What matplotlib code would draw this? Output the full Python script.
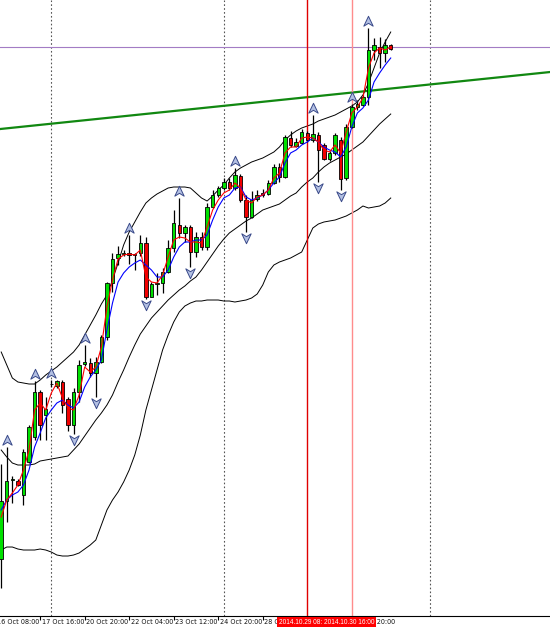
import matplotlib
matplotlib.use("Agg")
import matplotlib.pyplot as plt
import matplotlib.transforms as mtransforms
from matplotlib.path import Path
from matplotlib import font_manager

# H4 candles, 16 Oct 12:00 .. 31 Oct 20:00 (prices)
opens = [106.407, 106.993, 107.205, 107.193, 107.05, 107.383, 107.627, 108.083, 107.85, 108.16,
         108.14, 108.183, 108.01, 107.75, 108.083, 108.357, 108.373, 108.273, 108.383, 108.627,
         109.173, 109.423, 109.465, 109.467, 109.46, 109.467, 109.567, 109.033, 109.157, 109.167,
         109.283, 109.517, 109.75, 109.667, 109.733, 109.483, 109.633, 109.527, 109.933, 110.05,
         110.117, 110.183, 110.12, 110.24, 110.00, 109.833, 110.007, 110.073, 110.06, 110.173,
         110.333, 110.227, 110.617, 110.54, 110.573, 110.667, 110.60, 110.655, 110.55, 110.407,
         110.467, 110.60, 110.217, 110.733, 110.927, 110.95, 111.027, 111.50, 111.533, 111.467,
         111.55]
highs = [107.357, 107.527, 107.24, 107.215, 107.51, 107.75, 108.193, 108.10, 108.03, 108.20,
         108.20, 108.20, 108.03, 108.12, 108.40, 108.55, 108.423, 108.43, 108.65, 109.183,
         109.467, 109.54, 109.50, 109.65, 109.47, 109.65, 109.63, 109.183, 109.27, 109.317,
         109.60, 109.90, 110.017, 109.75, 109.75, 109.68, 109.68, 109.97, 110.10, 110.14,
         110.22, 110.22, 110.317, 110.26, 110.05, 110.093, 110.10, 110.11, 110.20, 110.36,
         110.367, 110.65, 110.69, 110.62, 110.707, 110.69, 110.85, 110.68, 110.57, 110.49,
         110.67, 110.633, 110.76, 110.96, 111.00, 111.05, 111.717, 111.617, 111.633, 111.607,
         111.56]
lows = [106.117, 106.783, 106.97, 107.14, 106.95, 107.37, 107.60, 107.60, 107.60, 108.13,
        108.12, 107.87, 107.69, 107.66, 107.983, 108.34, 108.233, 108.033, 108.37, 108.60,
        109.083, 109.35, 109.44, 109.36, 109.30, 109.44, 109.007, 109.027, 109.05, 109.067,
        109.267, 109.483, 109.617, 109.583, 109.333, 109.433, 109.50, 109.50, 109.92, 110.03,
        110.10, 110.10, 110.10, 109.98, 109.683, 109.82, 109.99, 110.03, 110.05, 110.16,
        110.183, 110.22, 110.53, 110.53, 110.56, 110.58, 110.58, 110.18, 110.40, 110.39,
        110.45, 110.10, 110.20, 110.72, 110.90, 110.94, 110.95, 111.40, 111.317, 111.383,
        111.50]
closes = [106.993, 107.193, 107.21, 107.15, 107.483, 107.733, 108.083, 107.75, 107.907, 108.157,
          108.187, 107.95, 107.75, 108.083, 108.35, 108.383, 108.273, 108.383, 108.633, 109.173,
          109.407, 109.457, 109.47, 109.447, 109.455, 109.567, 109.03, 109.16, 109.173, 109.283,
          109.517, 109.767, 109.667, 109.733, 109.483, 109.633, 109.533, 109.933, 110.05, 110.117,
          110.183, 110.117, 110.25, 110.00, 109.833, 110.00, 110.05, 110.05, 110.173, 110.333,
          110.233, 110.633, 110.55, 110.583, 110.677, 110.60, 110.66, 110.505, 110.407, 110.467,
          110.65, 110.207, 110.733, 110.933, 110.957, 111.027, 111.50, 111.55, 111.473, 111.55,
          111.507]

# indicator lines (fast MA red, slow MA blue, Bollinger bands black)
ma_fast = [106.83, 107.00, 107.07, 107.15, 107.30, 107.50, 107.90, 107.97, 107.90, 108.07,
           108.17, 108.02, 107.92, 107.90, 108.05, 108.33, 108.28, 108.33, 108.53, 108.93,
           109.20, 109.41, 109.45, 109.46, 109.45, 109.50, 109.23, 109.18, 109.17, 109.25,
           109.43, 109.60, 109.63, 109.62, 109.58, 109.58, 109.57, 109.73, 109.90, 110.00,
           110.07, 110.10, 110.17, 110.12, 110.00, 109.97, 110.03, 110.05, 110.10, 110.22,
           110.27, 110.47, 110.53, 110.53, 110.62, 110.63, 110.62, 110.58, 110.50, 110.48,
           110.55, 110.47, 110.68, 110.87, 110.93, 111.02, 111.32, 111.47, 111.52, 111.50,
           111.53]
ma_slow = [106.90, 107.00, 107.05, 107.08, 107.15, 107.30, 107.53, 107.67, 107.82, 107.90,
           107.97, 108.00, 107.95, 107.92, 107.98, 108.13, 108.23, 108.30, 108.40, 108.70,
           108.97, 109.18, 109.27, 109.33, 109.37, 109.40, 109.35, 109.30, 109.23, 109.23,
           109.30, 109.43, 109.53, 109.58, 109.58, 109.60, 109.60, 109.65, 109.80, 109.93,
           110.02, 110.05, 110.12, 110.13, 110.03, 110.00, 110.02, 110.05, 110.10, 110.17,
           110.23, 110.37, 110.47, 110.50, 110.55, 110.58, 110.62, 110.58, 110.53, 110.50,
           110.48, 110.43, 110.53, 110.73, 110.87, 110.92, 111.00, 111.18, 111.27, 111.35,
           111.42]
bb_upper = [108.48, 108.35, 108.22, 108.18, 108.17, 108.16, 108.16, 108.20, 108.25, 108.29,
            108.33, 108.38, 108.43, 108.48, 108.55, 108.65, 108.75, 108.85, 108.96, 109.05,
            109.20, 109.37, 109.55, 109.68, 109.78, 109.88, 109.97, 110.02, 110.06, 110.09,
            110.12, 110.13, 110.13, 110.13, 110.12, 110.07, 110.02, 109.99, 110.04, 110.10,
            110.15, 110.22, 110.28, 110.32, 110.35, 110.38, 110.40, 110.42, 110.45, 110.48,
            110.53, 110.60, 110.65, 110.69, 110.72, 110.74, 110.76, 110.79, 110.81, 110.83,
            110.85, 110.88, 110.91, 110.94, 110.98, 111.05, 111.17, 111.32, 111.47, 111.58,
            111.68]
bb_middle = [107.50, 107.43, 107.37, 107.35, 107.35, 107.35, 107.36, 107.39, 107.40, 107.41,
             107.42, 107.43, 107.44, 107.50, 107.56, 107.64, 107.72, 107.80, 107.87, 107.95,
             108.05, 108.18, 108.30, 108.43, 108.55, 108.66, 108.74, 108.82, 108.88, 108.94,
             109.00, 109.05, 109.10, 109.14, 109.19, 109.23, 109.30, 109.38, 109.46, 109.54,
             109.61, 109.67, 109.71, 109.75, 109.79, 109.82, 109.86, 109.90, 109.92, 109.94,
             109.96, 110.00, 110.04, 110.07, 110.13, 110.18, 110.22, 110.28, 110.33, 110.37,
             110.40, 110.43, 110.46, 110.50, 110.54, 110.58, 110.64, 110.70, 110.76, 110.81,
             110.86]
bb_lower = [106.50, 106.53, 106.53, 106.51, 106.50, 106.50, 106.50, 106.51, 106.50, 106.48,
            106.45, 106.44, 106.44, 106.45, 106.47, 106.51, 106.55, 106.60, 106.75, 106.90,
            107.00, 107.08, 107.18, 107.30, 107.45, 107.65, 107.90, 108.10, 108.30, 108.50,
            108.65, 108.78, 108.88, 108.94, 108.97, 108.99, 108.99, 109.00, 109.00, 109.00,
            108.99, 108.99, 108.98, 108.99, 109.00, 109.02, 109.06, 109.15, 109.28, 109.35,
            109.38, 109.40, 109.42, 109.45, 109.48, 109.60, 109.72, 109.76, 109.78, 109.79,
            109.80, 109.82, 109.84, 109.87, 109.90, 109.94, 109.92, 109.93, 109.94, 109.97,
            110.02]

fractal_up_bars = [1, 6, 9, 15, 23, 32, 42, 56, 63, 66]
fractal_down_bars = [13, 17, 26, 34, 44, 57, 61]

tick_bars = [-1, 7, 15, 23, 31, 39, 47, 63]
tick_labels = ["16 Oct 08:00", "17 Oct 16:00", "20 Oct 20:00", "22 Oct 04:00",
               "23 Oct 12:00", "24 Oct 20:00", "28 Oct 04:00", "30 Oct 20:00"]
separator_bars = [9, 40, 77]
vline_bars = [55, 63]
vline_labels = ["2014.10.29 08:00", "2014.10.30 16:00"]
vline_colors = ["#e00000", "#ff8c8c"]
hline_price = 111.53
trend_start = (0, 110.711)
trend_end = (90, 111.23)

names = {f.name for f in font_manager.fontManager.ttflist}
narrow_font = "Liberation Sans Narrow" if "Liberation Sans Narrow" in names else "DejaVu Sans"
box_font = "Liberation Sans" if "Liberation Sans" in names else "DejaVu Sans"

fig = plt.figure(figsize=(5.5, 6.27), dpi=100)
ax = fig.add_axes([0, 0.018, 1, 0.982])
for side in ["top", "left", "right"]:
    ax.spines[side].set_visible(False)
ax.spines["bottom"].set_linewidth(0.8)
ax.set_yticks([])

# period separators
for b in separator_bars:
    ax.axvline(b, color="#555555", lw=0.8, ls=(0, (1.5, 2)), zorder=1)

# horizontal and trend lines
ax.axhline(hline_price, color="#a37cc4", lw=0.8, zorder=1)
ax.axline(trend_start, trend_end, color="#118811", lw=1.6, zorder=1)

# bollinger bands
x = list(range(len(closes)))
for band in (bb_upper, bb_middle, bb_lower):
    ax.plot(x, band, color="black", lw=0.7, zorder=2)

# candles
ax.vlines(x, lows, highs, color="black", lw=0.9, zorder=3)
body_bottom = [min(o, c) for o, c in zip(opens, closes)]
body_height = [abs(c - o) for o, c in zip(opens, closes)]
body_color = ["#00e000" if c >= o else "#f00000" for o, c in zip(opens, closes)]
ax.bar(x, body_height, bottom=body_bottom, width=0.62, color=body_color,
       edgecolor="black", linewidth=0.6, zorder=4)

# moving averages
ax.plot(x, ma_slow, color="#0000ff", lw=0.8, zorder=5)
ax.plot(x, ma_fast, color="#ff0000", lw=0.8, zorder=5)

# fractal arrows
up_arrow = Path([(0, 1), (0.9, -0.9), (0, -0.35), (-0.9, -0.9), (0, 1)],
                [Path.MOVETO, Path.LINETO, Path.LINETO, Path.LINETO, Path.CLOSEPOLY])
down_arrow = Path([(0, -1), (0.9, 0.9), (0, 0.35), (-0.9, 0.9), (0, -1)],
                  [Path.MOVETO, Path.LINETO, Path.LINETO, Path.LINETO, Path.CLOSEPOLY])
up_trans = mtransforms.offset_copy(ax.transData, fig=fig, x=0, y=7, units="dots")
down_trans = mtransforms.offset_copy(ax.transData, fig=fig, x=0, y=-6, units="dots")
ax.plot(fractal_up_bars, [highs[b] for b in fractal_up_bars], ls="none", marker=up_arrow,
        ms=7.5, mfc="#b3c0e3", mec="#3a4a8a", mew=0.7, transform=up_trans, zorder=6)
ax.plot(fractal_down_bars, [lows[b] for b in fractal_down_bars], ls="none", marker=down_arrow,
        ms=7.5, mfc="#b3c0e3", mec="#3a4a8a", mew=0.7, transform=down_trans, zorder=6)

# vertical lines
for b, col in zip(vline_bars, vline_colors):
    ax.axvline(b, ymin=-0.006, ymax=1, color=col, lw=1.0, zorder=2, clip_on=False)

# time axis (set_xticks may widen the view, so limits come after)
ax.set_xticks(tick_bars)
ax.set_xticklabels([])
ax.tick_params(axis="x", direction="out", length=3, width=0.8)
ax.set_xlim(-0.216, 98.62)
ax.set_ylim(105.843, 112.0)

trans = mtransforms.blended_transform_factory(ax.transData, ax.transAxes)
label_trans = mtransforms.offset_copy(trans, fig=fig, x=1.5, y=0, units="dots")
for b, lab in zip(tick_bars, tick_labels):
    ax.text(b, -0.0102, lab, transform=label_trans, ha="left", va="center",
            fontsize=4.7, family=narrow_font, color="#111111", clip_on=False, zorder=3)

for b, lab in zip(vline_bars, vline_labels):
    ax.text(b - 0.5, -0.0112, lab, transform=trans, ha="center", va="center",
            fontsize=4.7, family=box_font, color="white", clip_on=False, zorder=10,
            bbox=dict(boxstyle="square,pad=0.3", fc="#ff0000", ec="none"))

fig.savefig("out.png", dpi=100)
plt.close(fig)
